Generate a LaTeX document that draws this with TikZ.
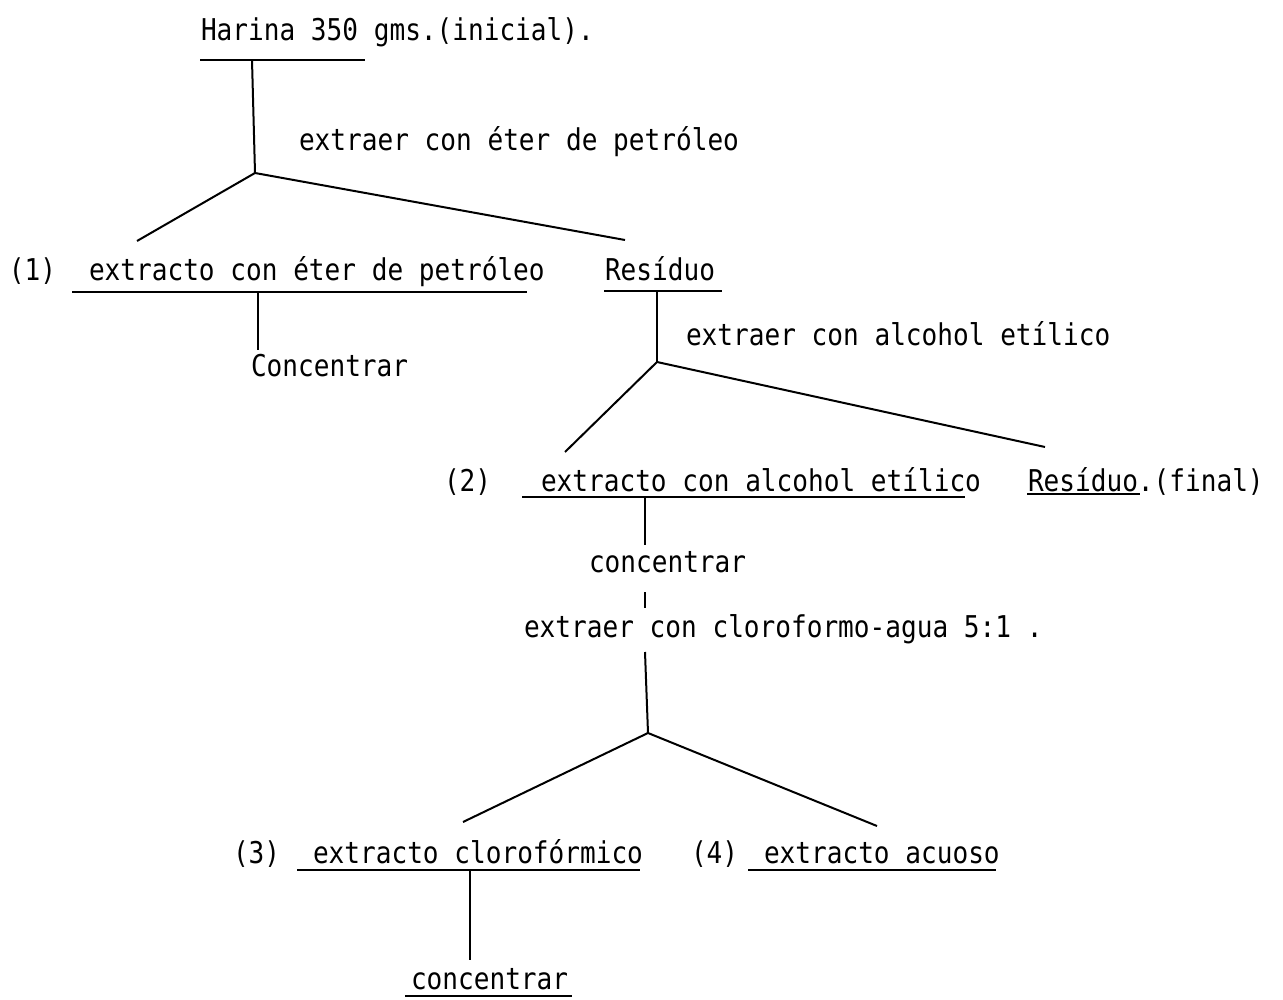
\documentclass[tikz,border=0pt]{standalone}
\usepackage{fontspec}
\newfontfamily\lbfont{DejaVu Sans Mono}[FakeStretch=0.87]
\begin{document}
\begin{tikzpicture}[x=1pt,y=-1pt,line width=2pt,
  lbl/.style={anchor=base west,inner sep=0pt,font=\lbfont\fontsize{30}{34}\selectfont}]
\useasboundingbox (0,0) rectangle (1283,1000);
% level 0
\node[lbl] (harina) at (200,41) {Harina 350 gms.(inicial).};
\coordinate (u0a) at (200,60); \coordinate (u0b) at (365,60);
\draw (u0a) -- (u0b);
\coordinate (t0) at (252,60); \coordinate (j1) at (255,173);
\draw (t0) -- (j1);
\node[lbl] (op1) at (298,151) {extraer con éter de petróleo};
\coordinate (b1) at (137,241); \coordinate (b2) at (625,240);
\draw (b1) -- (j1) -- (b2);
% level 1
\node[lbl] (n1) at (8,281) {(1)};
\node[lbl] (ext1) at (88,281) {extracto con éter de petróleo};
\coordinate (u1a) at (72,292); \coordinate (u1b) at (527,292);
\draw (u1a) -- (u1b);
\coordinate (t1) at (258,292); \coordinate (t1e) at (258,350);
\draw (t1) -- (t1e);
\node[lbl] (conc1) at (250,377) {Concentrar};
\node[lbl] (res1) at (604,281) {Resíduo};
\coordinate (u2a) at (604,291); \coordinate (u2b) at (722,291);
\draw (u2a) -- (u2b);
\coordinate (t2) at (657,291); \coordinate (j2) at (657,362);
\draw (t2) -- (j2);
\node[lbl] (op2) at (685,345) {extraer con alcohol etílico};
\coordinate (b3) at (565,452); \coordinate (b4) at (1045,447);
\draw (b3) -- (j2) -- (b4);
% level 2
\node[lbl] (n2) at (443,491) {(2)};
\node[lbl] (ext2) at (540,491) {extracto con alcohol etílico};
\coordinate (u3a) at (522,497); \coordinate (u3b) at (965,497);
\draw (u3a) -- (u3b);
\node[lbl] (res2) at (1027,491) {Resíduo.(final)};
\coordinate (u4a) at (1027,494); \coordinate (u4b) at (1140,494);
\draw (u4a) -- (u4b);
\coordinate (t3) at (645,497); \coordinate (t3e) at (645,545);
\draw (t3) -- (t3e);
\node[lbl] (conc2) at (588,572) {concentrar};
\coordinate (t4) at (645,592); \coordinate (t4e) at (645,608);
\draw (t4) -- (t4e);
\node[lbl] (op3) at (523,637) {extraer con cloroformo-agua 5:1 .};
\coordinate (t5) at (645,652); \coordinate (j3) at (648,733);
\draw (t5) -- (j3);
\coordinate (b5) at (463,822); \coordinate (b6) at (877,826);
\draw (b5) -- (j3) -- (b6);
% level 3
\node[lbl] (n3) at (232,863) {(3)};
\node[lbl] (ext3) at (312,863) {extracto clorofórmico};
\coordinate (u5a) at (297,870); \coordinate (u5b) at (640,870);
\draw (u5a) -- (u5b);
\node[lbl] (n4) at (690,863) {(4)};
\node[lbl] (ext4) at (763,863) {extracto acuoso};
\coordinate (u6a) at (748,870); \coordinate (u6b) at (996,870);
\draw (u6a) -- (u6b);
\coordinate (t6) at (470,870); \coordinate (t6e) at (470,960);
\draw (t6) -- (t6e);
\node[lbl] (conc3) at (410,989) {concentrar};
\coordinate (u7a) at (405,996); \coordinate (u7b) at (572,996);
\draw (u7a) -- (u7b);
\end{tikzpicture}
\end{document}
